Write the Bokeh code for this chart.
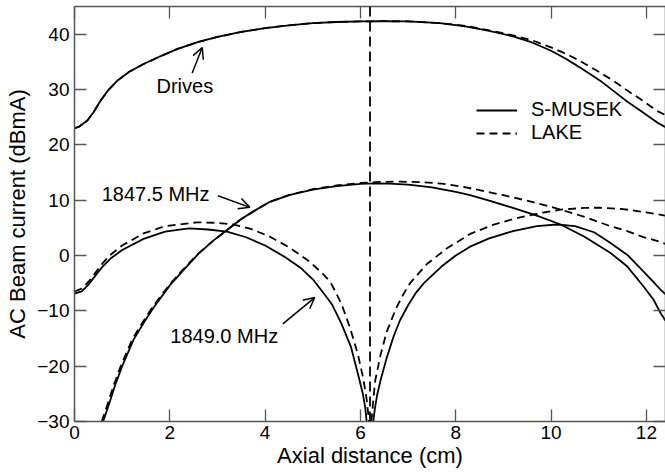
from bokeh.plotting import figure
from bokeh.models import (Range1d, LinearAxis, Span, Label, Arrow, OpenHead,
                          Legend, LegendItem, FixedTicker)
from bokeh.embed import file_html
from bokeh.resources import INLINE

FONT = "Liberation Sans"

# ---------------- data ----------------
x_ticks = [0, 2, 4, 6, 8, 10, 12]
y_ticks = [-30, -20, -10, 0, 10, 20, 30, 40]

# Drives
drv_s_x = [0, 0.1, 0.27, 0.4, 0.55, 0.7, 0.9, 1.15, 1.45, 1.8, 2.15, 2.6, 3.0, 3.5, 4.0, 4.5,
           5.0, 5.5, 6.0, 6.5, 7.0, 7.67, 8.2, 8.7, 9.2, 9.6, 10.0, 10.3, 10.6, 11.03, 11.3,
           11.6, 11.87, 12.1, 12.25, 12.4]
drv_s_y = [23.0, 23.3, 24.4, 25.9, 28.0, 29.8, 31.6, 33.2, 34.6, 36.0, 37.3, 38.6, 39.5, 40.4,
           41.1, 41.6, 42.0, 42.2, 42.3, 42.35, 42.3, 42.0, 41.4, 40.6, 39.6, 38.5, 37.0, 35.6,
           34.0, 31.6, 29.8, 27.8, 26.2, 24.8, 23.9, 23.2]
drv_l_x = [0, 0.1, 0.27, 0.4, 0.55, 0.7, 0.9, 1.15, 1.45, 1.8, 2.15, 2.6, 3.0, 3.5, 4.0, 4.5,
           5.0, 5.5, 6.0, 6.5, 7.0, 7.67, 8.2, 8.7, 9.2, 9.6, 10.0, 10.3, 10.6, 11.0, 11.3,
           11.6, 11.87, 12.1, 12.25, 12.4]
drv_l_y = [23.0, 23.3, 24.4, 25.9, 28.0, 29.8, 31.6, 33.2, 34.6, 36.0, 37.3, 38.6, 39.5, 40.4,
           41.1, 41.6, 42.0, 42.2, 42.3, 42.35, 42.3, 42.0, 41.5, 40.7, 39.8, 38.9, 37.6, 36.5,
           35.2, 33.2, 31.6, 29.8, 28.3, 26.9, 26.0, 25.4]

# 1847.5 MHz
f1_s_x = [0.6, 0.7, 0.85, 1.0, 1.24, 1.45, 1.66, 2.0, 2.3, 2.6, 2.9, 3.2, 3.5, 3.8, 4.1, 4.5,
          5.0, 5.5, 6.0, 6.3, 6.6, 7.0, 7.5, 8.0, 8.3, 8.7, 9.2, 9.7, 10.2, 10.7, 11.24, 11.6,
          11.94, 12.15, 12.29, 12.4]
f1_s_y = [-30, -27.5, -23.5, -20, -15.2, -12.2, -9.4, -5.4, -2.5, 0.3, 2.6, 4.6, 6.6, 8.2, 9.7,
          10.9, 11.9, 12.55, 12.95, 13.05, 13.0, 12.8, 12.3, 11.5, 10.9, 9.9, 8.6, 7.2, 5.6, 3.4,
          0.5, -2.0, -5.6, -8.0, -10.3, -11.8]
f1_l_x = [0.57, 0.67, 0.82, 0.97, 1.21, 1.42, 1.63, 1.98, 2.28, 2.59, 2.9, 3.2, 3.5, 3.8, 4.1,
          4.5, 5.0, 5.5, 6.0, 6.4, 6.84, 7.3, 7.7, 8.1, 8.5, 9.0, 9.6, 10.2, 10.7, 11.24, 11.6,
          11.94, 12.2, 12.4]
f1_l_y = [-30, -27.5, -23.5, -20, -15.2, -12.2, -9.4, -5.4, -2.5, 0.3, 2.6, 4.6, 6.6, 8.2, 9.7,
          10.9, 12.0, 12.65, 13.1, 13.3, 13.35, 13.25, 13.0, 12.5, 11.8, 10.9, 9.7, 8.3, 7.0, 5.3,
          4.4, 3.3, 2.7, 2.1]

# 1849.0 MHz (split at the notch)
f2_sa_x = [0, 0.15, 0.3, 0.45, 0.6, 0.75, 1.0, 1.45, 1.9, 2.4, 2.8, 3.2, 3.6, 4.0, 4.4, 4.74,
           5.0, 5.2, 5.4, 5.6, 5.8, 5.95, 6.05, 6.1, 6.13]
f2_sa_y = [-6.9, -6.5, -5.2, -3.5, -1.9, -0.6, 1.0, 3.0, 4.3, 4.9, 4.7, 4.3, 3.3, 1.8, -0.2,
           -2.2, -4.3, -6.5, -8.8, -12.3, -16.5, -21.5, -25.0, -27.5, -30]
f2_sb_x = [6.27, 6.3, 6.35, 6.42, 6.55, 6.7, 6.83, 7.0, 7.15, 7.33, 7.7, 8.0, 8.3, 8.7, 9.2, 9.7,
           10.12, 10.5, 10.9, 11.24, 11.6, 11.94, 12.15, 12.3, 12.4]
f2_sb_y = [-30, -27.8, -25.2, -22.6, -18.5, -14.5, -11.7, -9.0, -6.9, -5.0, -2.0, 0.0, 1.6, 3.1,
           4.4, 5.3, 5.6, 5.3, 4.2, 2.3, 0.1, -2.9, -4.8, -6.2, -7.0]
f2_la_x = [0, 0.15, 0.3, 0.45, 0.6, 0.75, 1.0, 1.45, 1.9, 2.57, 3.0, 3.34, 3.7, 4.1, 4.5, 4.9,
           5.2, 5.37, 5.6, 5.79, 5.95, 6.06, 6.13, 6.18]
f2_la_y = [-6.5, -6.0, -4.7, -3.0, -1.3, 0.1, 1.8, 4.0, 5.3, 6.0, 5.9, 5.6, 4.8, 3.4, 1.5, -0.9,
           -3.2, -4.8, -8.7, -13.3, -18.0, -22.3, -26.0, -30]
f2_lb_x = [6.23, 6.27, 6.31, 6.42, 6.55, 6.75, 6.9, 7.04, 7.4, 7.8, 8.3, 8.8, 9.3, 9.8, 10.2, 10.7,
           11.0, 11.5, 12.0, 12.4]
f2_lb_y = [-30, -26.0, -22.6, -18.0, -13.8, -9.5, -7.0, -5.0, -1.5, 1.2, 3.9, 5.6, 6.8, 7.7, 8.3,
           8.6, 8.65, 8.4, 7.8, 7.2]

marker_x = 6.2

# ---------------- figure ----------------
FRAME_W, FRAME_H = 591, 415
p = figure(frame_width=FRAME_W, frame_height=FRAME_H,
           x_range=Range1d(0, 12.4), y_range=Range1d(-30, 45),
           output_backend="svg", toolbar_location=None,
           min_border_left=74, min_border_right=0, min_border_top=6, min_border_bottom=0)
p.grid.visible = False
p.outline_line_color = None
p.background_fill_color = "white"
p.border_fill_color = "white"

AX = "#555555"

def style_axis(ax, ticks):
    ax.ticker = FixedTicker(ticks=ticks)
    ax.major_tick_in = 12
    ax.major_tick_out = 0
    ax.minor_tick_line_color = None
    ax.major_tick_line_color = AX
    ax.major_tick_line_width = 1.3
    ax.axis_line_color = AX
    ax.axis_line_width = 1.5
    ax.major_label_text_font = FONT
    ax.major_label_text_font_size = "19px"
    ax.major_label_text_color = "black"
    ax.axis_label_text_font = FONT
    ax.axis_label_text_font_size = "22px"
    ax.axis_label_text_font_style = "normal"
    ax.axis_label_text_color = "black"

xa = p.xaxis[0]
ya = p.yaxis[0]
style_axis(xa, x_ticks)
style_axis(ya, y_ticks)
xa.axis_label = "Axial distance (cm)"
ya.axis_label = "AC Beam current (dBmA)"
xa.major_label_standoff = 4
xa.axis_label_standoff = 1
ya.major_label_standoff = 5
ya.axis_label_standoff = 4

# mirrored tick marks on top and right (no labels drawn)
top = LinearAxis()
style_axis(top, x_ticks)
top.major_label_text_font_size = "1px"
top.major_label_text_color = None
top.major_label_standoff = 0
right = LinearAxis()
style_axis(right, y_ticks)
right.major_label_text_font_size = "1px"
right.major_label_text_color = None
right.major_label_standoff = 0
p.add_layout(top, "above")
p.add_layout(right, "right")

LW = 1.8
DASH = "8 5"
r_s = p.line(drv_s_x, drv_s_y, line_color="black", line_width=LW)
r_l = p.line(drv_l_x, drv_l_y, line_color="black", line_width=LW, line_dash=DASH)
p.line(f1_s_x, f1_s_y, line_color="black", line_width=LW)
p.line(f1_l_x, f1_l_y, line_color="black", line_width=LW, line_dash=DASH)
p.line(f2_sa_x, f2_sa_y, line_color="black", line_width=LW)
p.line(f2_sb_x, f2_sb_y, line_color="black", line_width=LW)
p.line(f2_la_x, f2_la_y, line_color="black", line_width=LW, line_dash=DASH)
p.line(f2_lb_x, f2_lb_y, line_color="black", line_width=LW, line_dash=DASH)

p.add_layout(Span(location=marker_x, dimension="height", line_color="black",
                  line_width=LW, line_dash="10 5"))

# annotations
TXT = "20px"
for t, x, y in [("Drives", 1.72, 30.6), ("1847.5 MHz", 0.57, 11.2), ("1849.0 MHz", 2.01, -14.6)]:
    p.add_layout(Label(x=x, y=y, text=t, text_baseline="middle", text_align="left",
                       text_font=FONT, text_font_size=TXT, text_color="black"))

for xs, ys, xe, ye in [(2.47, 33.0, 2.68, 37.6), (3.01, 10.8, 3.68, 8.7), (4.37, -12.35, 5.04, -7.6)]:
    p.add_layout(Arrow(end=OpenHead(size=11, line_width=1.5, line_color="black"),
                       x_start=xs, y_start=ys, x_end=xe, y_end=ye,
                       line_width=1.5, line_color="black"))

# legend
leg_bottom_px = (20.76 + 30) / 75 * FRAME_H - 4
legend = Legend(items=[LegendItem(label="S-MUSEK", renderers=[r_s]),
                       LegendItem(label="LAKE", renderers=[r_l])],
                location=(402, leg_bottom_px), orientation="vertical",
                border_line_color=None, background_fill_alpha=0,
                padding=0, margin=0, spacing=0, glyph_width=41, glyph_height=20,
                label_height=20, label_standoff=14, label_text_color="black",
                label_text_font=FONT, label_text_font_size="20px")
p.add_layout(legend)

open("out.html", "w").write(file_html(p, INLINE))
